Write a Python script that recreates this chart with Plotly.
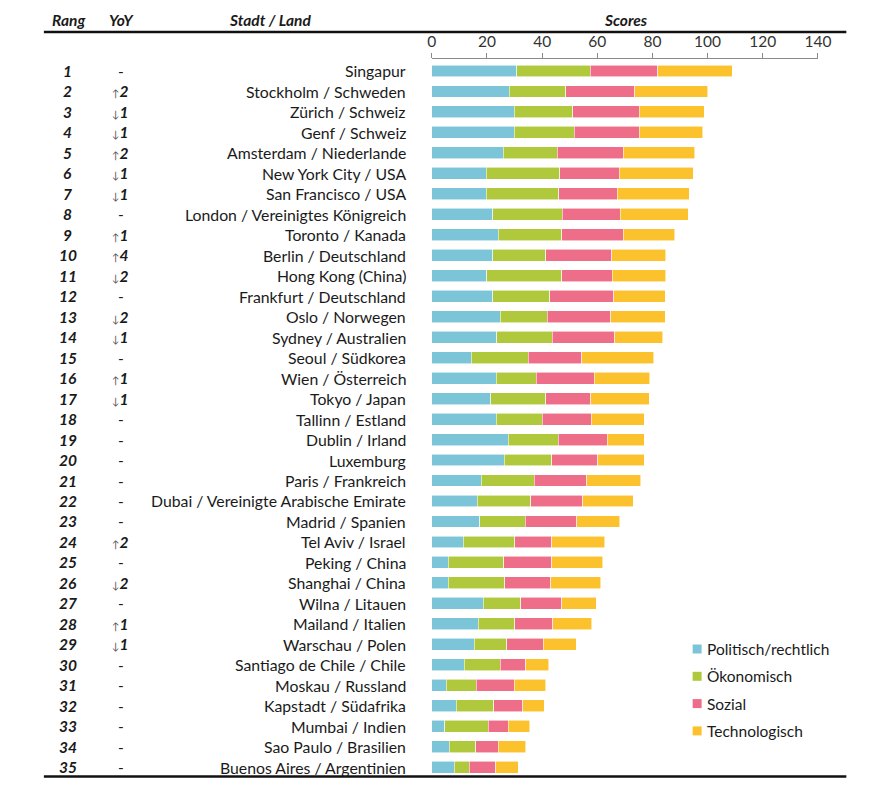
import plotly.graph_objects as go

# The page body has an 8px default margin on every side; size the figure to fit inside.
OFF = 8
W, H = 871 - 2 * OFF, 786 - 2 * OFF
# horizontal calibration of the photographed page (observed in earlier rounds)
SX, DX = 0.982, 2.2

ranks = list(range(1, 36))
yoy = ["-", "↑2", "↓1", "↓1", "↑2", "↓1", "↓1", "-", "↑1", "↑4",
       "↓2", "-", "↓2", "↓1", "-", "↑1", "↓1", "-", "-", "-",
       "-", "-", "-", "↑2", "-", "↓2", "-", "↑1", "↓1", "-",
       "-", "-", "-", "-", "-"]
cities = ["Singapur", "Stockholm / Schweden", "Zürich / Schweiz", "Genf / Schweiz",
          "Amsterdam / Niederlande", "New York City / USA", "San Francisco / USA",
          "London / Vereinigtes Königreich", "Toronto / Kanada", "Berlin / Deutschland",
          "Hong Kong (China)", "Frankfurt / Deutschland", "Oslo / Norwegen",
          "Sydney / Australien", "Seoul / Südkorea", "Wien / Österreich", "Tokyo / Japan",
          "Tallinn / Estland", "Dublin / Irland", "Luxemburg", "Paris / Frankreich",
          "Dubai / Vereinigte Arabische Emirate", "Madrid / Spanien", "Tel Aviv / Israel",
          "Peking / China", "Shanghai / China", "Wilna / Litauen", "Mailand / Italien",
          "Warschau / Polen", "Santiago de Chile / Chile", "Moskau / Russland",
          "Kapstadt / Südafrika", "Mumbai / Indien", "Sao Paulo / Brasilien",
          "Buenos Aires / Argentinien"]

politisch = [30.8, 28.1, 29.9, 29.9, 25.9, 19.8, 19.8, 22.0, 24.1, 22.0,
             19.9, 22.0, 24.8, 23.5, 14.3, 23.4, 21.3, 23.4, 27.7, 26.3,
             18.0, 16.5, 17.3, 11.4, 5.9, 5.9, 18.7, 16.9, 15.4, 11.7,
             5.3, 8.9, 4.7, 6.3, 8.2]
oekonomisch = [26.7, 20.5, 21.2, 21.8, 19.6, 26.6, 26.2, 25.3, 23.0, 19.4,
               27.2, 20.8, 17.1, 20.2, 20.6, 14.4, 20.1, 16.6, 18.2, 17.1,
               19.1, 19.3, 16.6, 18.6, 20.2, 20.5, 13.6, 13.1, 11.7, 13.2,
               10.8, 13.6, 15.7, 9.6, 5.3]
sozial = [24.4, 24.9, 24.1, 23.5, 24.0, 21.6, 21.3, 21.1, 22.4, 23.8,
          18.4, 23.1, 22.9, 22.7, 19.4, 21.1, 16.2, 17.9, 17.8, 16.7,
          19.0, 19.0, 18.6, 13.4, 17.4, 16.7, 14.8, 13.9, 13.3, 9.2,
          13.7, 10.4, 7.3, 8.1, 9.6]
technologisch = [27.0, 26.5, 23.5, 23.1, 25.8, 26.8, 26.1, 24.5, 18.6, 19.6,
                 19.3, 18.7, 19.8, 17.3, 26.2, 20.1, 21.2, 19.2, 13.4, 17.0,
                 19.6, 18.3, 15.7, 19.3, 18.4, 18.1, 12.5, 14.1, 12.0, 8.3,
                 11.5, 7.9, 7.8, 10.1, 8.3]

series_names = ["Politisch/rechtlich", "Ökonomisch", "Sozial", "Technologisch"]
series_values = [politisch, oekonomisch, sozial, technologisch]
series_colors = ["#7CC4D8", "#AFC83C", "#EE6D88", "#FBC22E"]

FONT = "Lato"
TXT = "#1a1a1a"


def px_x(p):
    return ((p - DX) / SX - OFF) / W


def px_y(p):
    return 1 - (p - OFF) / H


fig = go.Figure()
for name, vals, col in zip(series_names, series_values, series_colors):
    fig.add_trace(go.Bar(
        y=cities, x=vals, name=name, orientation="h",
        marker=dict(color=col, line=dict(color="rgba(255,255,255,0.7)", width=0.8)),
        showlegend=False,
    ))

annotations = []
# Header
for txt, xc in [("Rang", 67), ("YoY", 120), ("Stadt / Land", 269), ("Scores", 625)]:
    annotations.append(dict(text=f"<b><i>{txt}</i></b>", x=px_x(xc), y=px_y(20),
                            xref="paper", yref="paper", showarrow=False,
                            xanchor="center", yanchor="middle",
                            font=dict(family=FONT, size=15.5, color=TXT)))

for r, d, c in zip(ranks, yoy, cities):
    annotations.append(dict(text=f"<b><i>{r}</i></b>", x=px_x(66), y=c,
                            xref="paper", yref="y", showarrow=False,
                            xanchor="center", yanchor="middle",
                            font=dict(family=FONT, size=15.5, color=TXT)))
    if d == "-":
        t = "-"
    else:
        t = f"<span style='font-size:10px;color:#555'>{d[0]}</span><b><i>{d[1:]}</i></b>"
    annotations.append(dict(text=t, x=px_x(119), y=c,
                            xref="paper", yref="y", showarrow=False,
                            xanchor="center", yanchor="middle",
                            font=dict(family=FONT, size=15.5, color=TXT)))
    annotations.append(dict(text=c, x=px_x(406.5), y=c,
                            xref="paper", yref="y", showarrow=False,
                            xanchor="right", yanchor="middle",
                            font=dict(family=FONT, size=15.8, color=TXT)))

shapes = [
    dict(type="line", xref="paper", yref="paper", x0=px_x(42), x1=px_x(846),
         y0=px_y(32), y1=px_y(32), line=dict(color="#111", width=2.5)),
    dict(type="line", xref="paper", yref="paper", x0=px_x(42), x1=px_x(846),
         y0=px_y(776.5), y1=px_y(776.5), line=dict(color="#111", width=2.5)),
]

# Legend (drawn as squares + labels)
for i, (name, col) in enumerate(zip(series_names, series_colors)):
    yc = 649 + i * 27.3
    shapes.append(dict(type="rect", xref="paper", yref="paper",
                       x0=px_x(692), x1=px_x(701), y0=px_y(yc + 4.5), y1=px_y(yc - 4.5),
                       fillcolor=col, line=dict(width=0)))
    annotations.append(dict(text=name, x=px_x(704), y=px_y(yc),
                            xref="paper", yref="paper", showarrow=False,
                            xanchor="left", yanchor="middle",
                            font=dict(family=FONT, size=15.5, color=TXT)))

fig.update_layout(
    width=W, height=H,
    margin=dict(l=0, r=0, t=0, b=0),
    paper_bgcolor="white", plot_bgcolor="white",
    barmode="stack", bargap=0.42,
    showlegend=False,
    font=dict(family=FONT, size=14, color=TXT),
    xaxis=dict(domain=[px_x(430.7), px_x(817.5)], range=[0, 140], side="top",
               tickvals=[0, 20, 40, 60, 80, 100, 120, 140],
               showgrid=False, zeroline=False, showline=True,
               linecolor="#8a8a8a", linewidth=1, ticks="outside", ticklen=5,
               tickcolor="#8a8a8a", tickfont=dict(family=FONT, size=15.5, color="#333"),
               fixedrange=True),
    yaxis=dict(domain=[px_y(776), px_y(59)], type="category",
               categoryorder="array", categoryarray=cities,
               range=[34.43, -0.585], showticklabels=False, showgrid=False,
               zeroline=False, showline=False, ticks="", fixedrange=True),
    annotations=annotations,
    shapes=shapes,
)

fig.write_html("out.html")
